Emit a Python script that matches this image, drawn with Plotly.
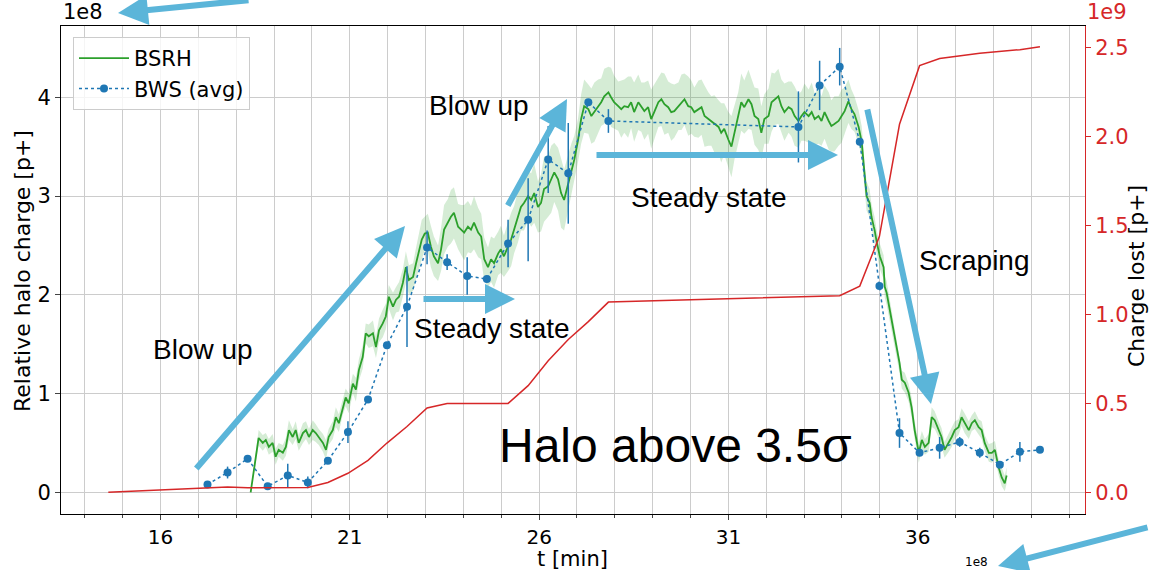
import numpy as np
import plotly.graph_objects as go

# ---------------- data ----------------
# BSRH (relative halo charge, units of 1e8 p+)
bsrh_t = [
    18.38, 18.51, 18.59, 18.70, 18.78, 18.86, 18.96, 19.04, 19.12, 19.23,
    19.31, 19.39, 19.49, 19.57, 19.65, 19.76, 19.84, 19.92, 20.02, 20.10,
    20.18, 20.29, 20.37, 20.44, 20.55, 20.63, 20.71, 20.81, 20.89, 20.97,
    21.08, 21.16, 21.24, 21.34, 21.42, 21.50, 21.61, 21.69, 21.77, 21.87,
    21.95, 22.03, 22.14, 22.22, 22.30, 22.40, 22.48, 22.56, 22.67, 22.75,
    22.83, 22.90, 22.98, 23.06, 23.14, 23.22, 23.33, 23.41, 23.49, 23.59,
    23.67, 23.75, 23.86, 23.94, 24.02, 24.12, 24.20, 24.28, 24.39, 24.47,
    24.55, 24.65, 24.73, 24.81, 24.92, 24.99, 25.07, 25.18, 25.26, 25.34,
    25.44, 25.52, 25.60, 25.71, 25.79, 25.87, 25.97, 26.05, 26.13, 26.24,
    26.32, 26.40, 26.50, 26.58, 26.66, 26.77, 26.85, 26.93, 27.03, 27.11,
    27.19, 27.30, 27.38, 27.46, 27.56, 27.64, 27.72, 27.83, 27.90, 27.98,
    28.09, 28.17, 28.25, 28.35, 28.43, 28.51, 28.62, 28.70, 28.78, 28.88,
    28.96, 29.04, 29.15, 29.23, 29.31, 29.41, 29.49, 29.57, 29.68, 29.76,
    29.84, 29.94, 30.02, 30.10, 30.21, 30.29, 30.37, 30.47, 30.55, 30.63,
    30.74, 30.81, 30.89, 31.00, 31.08, 31.16, 31.26, 31.34, 31.42, 31.53,
    31.61, 31.69, 31.79, 31.87, 31.95, 32.06, 32.14, 32.22, 32.32, 32.40,
    32.48, 32.59, 32.67, 32.75, 32.85, 32.93, 33.01, 33.12, 33.20, 33.28,
    33.38, 33.46, 33.54, 33.65, 33.72, 33.80, 33.91, 33.99, 34.07, 34.17,
    34.25, 34.33, 34.44, 34.52, 34.57, 34.60, 34.65, 34.73, 34.78, 34.84,
    34.86, 34.92, 35.00, 35.10, 35.13, 35.18, 35.26, 35.37, 35.44, 35.52,
    35.58, 35.66, 35.76, 35.84, 35.92, 36.03, 36.11, 36.19, 36.29, 36.37,
    36.45, 36.56, 36.63, 36.71, 36.82, 36.90, 36.98, 37.08, 37.16, 37.24,
    37.35, 37.43, 37.51, 37.61, 37.69, 37.77, 37.88, 37.96, 38.04, 38.14,
    38.22, 38.30, 38.35,
]
bsrh_v = [
    0.00, 0.36, 0.55, 0.50, 0.53, 0.46, 0.50, 0.36, 0.43, 0.40,
    0.46, 0.63, 0.56, 0.63, 0.50, 0.60, 0.63, 0.56, 0.63, 0.60,
    0.56, 0.50, 0.43, 0.56, 0.63, 0.76, 0.70, 0.86, 0.96, 0.90,
    1.10, 1.04, 1.24, 1.37, 1.61, 1.58, 1.61, 1.47, 1.64, 1.71,
    1.78, 1.98, 1.88, 1.95, 1.98, 2.12, 2.28, 2.15, 2.18, 2.32,
    2.46, 2.56, 2.62, 2.63, 2.49, 2.39, 2.32, 2.46, 2.66, 2.73,
    2.79, 2.83, 2.69, 2.66, 2.63, 2.69, 2.66, 2.73, 2.63, 2.59,
    2.36, 2.28, 2.36, 2.32, 2.42, 2.46, 2.39, 2.49, 2.56, 2.66,
    2.79, 2.89, 2.93, 3.00, 2.96, 3.03, 2.89, 2.93, 3.07, 3.10,
    3.17, 3.24, 3.17, 3.03, 2.96, 3.14, 3.27, 3.37, 3.57, 3.78,
    3.91, 3.88, 3.81, 3.85, 3.91, 3.95, 4.01, 4.05, 4.00, 3.95,
    3.91, 3.88, 3.91, 3.90, 3.95, 3.85, 3.95, 3.90, 3.86, 3.90,
    3.78, 3.85, 3.95, 3.98, 3.93, 3.90, 3.85, 3.86, 3.91, 3.95,
    3.98, 3.91, 3.90, 3.85, 3.88, 3.90, 3.81, 3.78, 3.76, 3.73,
    3.70, 3.64, 3.68, 3.57, 3.50, 3.64, 3.80, 3.95, 3.90, 3.98,
    3.93, 3.81, 3.78, 3.64, 3.78, 3.81, 3.95, 3.98, 4.01, 3.91,
    3.85, 3.90, 3.88, 3.81, 3.76, 3.81, 3.85, 3.81, 3.85, 3.78,
    3.81, 3.76, 3.85, 3.76, 3.71, 3.73, 3.76, 3.81, 3.86, 3.96,
    3.88, 3.83, 3.70, 3.55, 3.34, 3.17, 3.00, 2.93, 2.79, 2.69,
    2.66, 2.53, 2.39, 2.28, 2.08, 2.02, 1.85, 1.64, 1.47, 1.31,
    1.14, 1.11, 1.01, 0.86, 0.63, 0.40, 0.53, 0.46, 0.50, 0.76,
    0.73, 0.63, 0.56, 0.43, 0.50, 0.56, 0.63, 0.66, 0.76, 0.70,
    0.63, 0.70, 0.73, 0.66, 0.63, 0.50, 0.40, 0.40, 0.43, 0.25,
    0.15, 0.09, 0.17,
]
# half-width of the shaded BSRH uncertainty band (1e8 p+)
bsrh_band = [
    0.00, 0.06, 0.08, 0.08, 0.07, 0.08, 0.09, 0.08, 0.07, 0.08,
    0.09, 0.10, 0.08, 0.09, 0.08, 0.10, 0.09, 0.08, 0.10, 0.09,
    0.08, 0.09, 0.10, 0.08, 0.09, 0.10, 0.09, 0.08, 0.09, 0.10,
    0.10, 0.12, 0.11, 0.12, 0.10, 0.12, 0.13, 0.11, 0.12, 0.14,
    0.13, 0.12, 0.14, 0.13, 0.15, 0.14, 0.16, 0.15, 0.14, 0.16,
    0.18, 0.20, 0.17, 0.19, 0.21, 0.20, 0.18, 0.22, 0.25, 0.24,
    0.27, 0.26, 0.23, 0.25, 0.28, 0.26, 0.24, 0.27, 0.25, 0.23,
    0.22, 0.20, 0.23, 0.25, 0.22, 0.24, 0.21, 0.25, 0.27, 0.24,
    0.26, 0.24, 0.28, 0.25, 0.27, 0.30, 0.26, 0.29, 0.33, 0.31,
    0.34, 0.30, 0.32, 0.35, 0.31, 0.28, 0.26, 0.24, 0.22, 0.25,
    0.27, 0.25, 0.28, 0.30, 0.27, 0.24, 0.28, 0.26, 0.30, 0.27,
    0.25, 0.29, 0.27, 0.31, 0.26, 0.30, 0.28, 0.25, 0.29, 0.27,
    0.30, 0.28, 0.25, 0.27, 0.31, 0.26, 0.29, 0.27, 0.24, 0.28,
    0.26, 0.30, 0.27, 0.25, 0.29, 0.28, 0.31, 0.27, 0.25, 0.29,
    0.27, 0.30, 0.26, 0.28, 0.31, 0.27, 0.25, 0.29, 0.27, 0.30,
    0.26, 0.29, 0.31, 0.27, 0.25, 0.28, 0.30, 0.26, 0.28, 0.27,
    0.29, 0.26, 0.28, 0.30, 0.27, 0.25, 0.29, 0.27, 0.30, 0.26,
    0.28, 0.25, 0.27, 0.29, 0.26, 0.28, 0.25, 0.27, 0.24, 0.22,
    0.20, 0.18, 0.17, 0.16, 0.15, 0.14, 0.15, 0.14, 0.13, 0.14,
    0.13, 0.12, 0.13, 0.12, 0.11, 0.12, 0.11, 0.10, 0.11, 0.10,
    0.09, 0.10, 0.09, 0.10, 0.09, 0.10, 0.09, 0.08, 0.09, 0.10,
    0.09, 0.08, 0.09, 0.08, 0.09, 0.10, 0.09, 0.08, 0.09, 0.10,
    0.09, 0.08, 0.09, 0.08, 0.09, 0.08, 0.09, 0.10, 0.09, 0.08,
    0.09, 0.08, 0.08,
]

# BWS (avg), units of 1e8 p+
bws_t = [17.24, 17.77, 18.30, 18.83, 19.36, 19.89, 20.42, 20.95, 21.48, 21.98,
         22.51, 23.04, 23.57, 24.10, 24.62, 25.18, 25.71, 26.24, 26.77, 27.30,
         27.83, 32.85, 33.41, 33.94, 34.47, 34.99, 35.52, 36.05, 36.58, 37.11,
         37.64, 38.17, 38.70, 39.23]
bws_v = [0.08, 0.20, 0.34, 0.06, 0.17, 0.10, 0.32, 0.61, 0.94, 1.49,
         1.88, 2.48, 2.33, 2.19, 2.16, 2.52, 2.76, 3.37, 3.23, 3.95,
         3.76, 3.70, 4.12, 4.31, 3.55, 2.09, 0.60, 0.40, 0.45, 0.51,
         0.40, 0.28, 0.41, 0.43]
bws_err = [0.02, 0.06, 0.0, 0.03, 0.12, 0.06, 0.0, 0.11, 0.0, 0.0,
           0.41, 0.17, 0.08, 0.19, 0.0, 0.24, 0.42, 0.34, 0.51, 0.0,
           0.12, 0.36, 0.25, 0.19, 0.0, 0.0, 0.15, 0.0, 0.11, 0.05,
           0.05, 0.0, 0.10, 0.0]

# Charge lost (units of 1e9 p+)
lost_t = [14.62, 17.77, 18.30, 19.89, 20.42, 20.95, 21.48, 21.98, 22.51, 23.04,
          23.57, 25.18, 25.71, 26.24, 26.77, 27.30, 27.83, 33.94, 34.47, 34.99,
          35.52, 36.05, 36.58, 37.64, 38.70, 39.23]
lost_v = [0.00, 0.03, 0.025, 0.027, 0.055, 0.107, 0.18, 0.277, 0.37, 0.474,
          0.50, 0.50, 0.60, 0.74, 0.86, 0.96, 1.07, 1.106, 1.16, 1.44,
          2.07, 2.40, 2.44, 2.47, 2.49, 2.506]

# ---------------- figure ----------------
GREEN = "#2ca02c"
BLUE = "#1f77b4"
RED = "#d62728"
ARROW = "#5bb5d9"
FONT = "DejaVu Sans"

v = np.array(bsrh_v)
hw = np.array(bsrh_band)

fig = go.Figure()
fig.add_trace(go.Scatter(x=bsrh_t, y=v - hw, mode="lines", line=dict(width=0),
                         showlegend=False, hoverinfo="skip"))
fig.add_trace(go.Scatter(x=bsrh_t, y=v + hw, mode="lines", line=dict(width=0),
                         fill="tonexty", fillcolor="rgba(44,160,44,0.2)",
                         showlegend=False, hoverinfo="skip"))
fig.add_trace(go.Scatter(x=bsrh_t, y=bsrh_v, mode="lines", name="BSRH",
                         line=dict(color=GREEN, width=1.8)))
fig.add_trace(go.Scatter(x=bws_t, y=bws_v, mode="lines+markers", name="BWS (avg)",
                         line=dict(color=BLUE, width=1.5, dash="dot"),
                         marker=dict(color=BLUE, size=8),
                         error_y=dict(type="data", array=bws_err, color=BLUE,
                                      thickness=1.5, width=0)))
fig.add_trace(go.Scatter(x=lost_t, y=lost_v, mode="lines", yaxis="y2",
                         line=dict(color=RED, width=1.5), showlegend=False))

def px(X):
    return (X - 61) / 1024.0

def py(Y):
    return (514 - Y) / 488.0

annotations = []
# text labels
for txt, X, Y, size in [("Blow up", 203, 349, 28), ("Steady state", 492, 328, 28),
                        ("Blow up", 479, 106, 28), ("Steady state", 709, 197, 28),
                        ("Scraping", 974, 260, 28), ("Halo above 3.5σ", 675, 445, 48)]:
    annotations.append(dict(text=txt, x=px(X), y=py(Y), xref="paper", yref="paper",
                            showarrow=False, xanchor="center", yanchor="middle",
                            font=dict(family="Liberation Sans", size=size, color="black")))
# arrows (tip, tail)
for tip, tail in [((405, 226), (195, 470)), ((515, 299), (422, 299)),
                  ((567, 99), (507, 207)), ((838, 155), (595, 155)),
                  ((931, 404), (867, 108)), ((118, 13), (250, -5)),
                  ((998, 566), (1155, 527))]:
    annotations.append(dict(text="", x=px(tip[0]), y=py(tip[1]), xref="paper", yref="paper",
                            ax=tail[0] - tip[0], ay=tail[1] - tip[1],
                            showarrow=True, arrowhead=2, arrowsize=1, arrowwidth=6,
                            arrowcolor=ARROW, standoff=0, startstandoff=0))
# axis titles & exponent labels
annotations += [
    dict(text="Relative halo charge [p+]", x=px(22), y=py(271), xref="paper", yref="paper",
         xanchor="center", yanchor="middle",
         showarrow=False, textangle=-90, font=dict(family=FONT, size=22, color="black")),
    dict(text="Charge lost [p+]", x=px(1136), y=py(276), xref="paper", yref="paper",
         xanchor="center", yanchor="middle",
         showarrow=False, textangle=-90, font=dict(family=FONT, size=22, color="black")),
    dict(text="t [min]", x=px(572), y=py(559), xref="paper", yref="paper",
         xanchor="center", yanchor="middle",
         showarrow=False, font=dict(family=FONT, size=21, color="black")),
    dict(text="1e8", x=0, y=1, xref="paper", yref="paper", xanchor="left", yanchor="bottom",
         showarrow=False, font=dict(family=FONT, size=21, color="black")),
    dict(text="1e9", x=1, y=1, xref="paper", yref="paper", xanchor="left", yanchor="bottom",
         showarrow=False, font=dict(family=FONT, size=21, color=RED)),
    dict(text="1e8", x=px(976), y=py(562), xref="paper", yref="paper",
         xanchor="center", yanchor="middle",
         showarrow=False, font=dict(family=FONT, size=12, color="black")),
]

fig.update_layout(
    width=1149, height=570,
    margin=dict(l=61, r=64, t=26, b=56),
    plot_bgcolor="white", paper_bgcolor="white",
    font=dict(family=FONT, size=21, color="black"),
    showlegend=True,
    legend=dict(x=px(73), y=1 - (37 - 26) / 488.0, xanchor="left", yanchor="top",
                traceorder="normal", itemwidth=50,
                bgcolor="rgba(255,255,255,0.8)", bordercolor="#cccccc", borderwidth=1,
                font=dict(family=FONT, size=21)),
    xaxis=dict(range=[13.37, 40.42], tick0=16, dtick=5, ticks="outside", ticklen=5,
               showgrid=True, gridcolor="#cccccc", gridwidth=1, zeroline=False,
               showline=True, linecolor="black", linewidth=1, mirror=True,
               tickfont=dict(size=20),
               minor=dict(dtick=1, tick0=16, ticks="outside", ticklen=3, showgrid=True,
                          gridcolor="#cccccc", gridwidth=1)),
    yaxis=dict(range=[-0.22, 4.722], dtick=1, ticks="outside", ticklen=5,
               showgrid=True, gridcolor="#cccccc", gridwidth=1, zeroline=False,
               showline=True, linecolor="black", linewidth=1, tickfont=dict(size=21)),
    yaxis2=dict(range=[-0.122, 2.623], dtick=0.5, tickformat=".1f", overlaying="y",
                side="right", ticks="outside", ticklen=5, tickcolor=RED,
                showgrid=False, zeroline=False, showline=True, linecolor=RED, linewidth=1,
                tickfont=dict(size=21, color=RED)),
    annotations=annotations,
)

fig.write_html("out.html")
